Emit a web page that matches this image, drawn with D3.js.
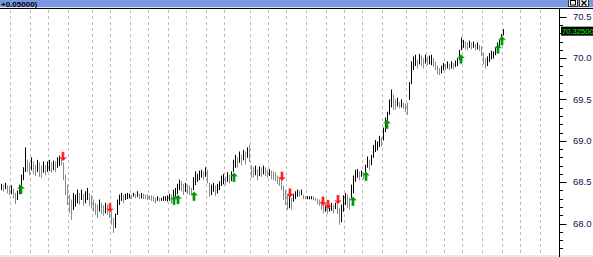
<!DOCTYPE html>
<html><head><meta charset="utf-8">
<script src="https://cdn.jsdelivr.net/npm/d3@7"></script>
<style>html,body{margin:0;padding:0;background:#fff;overflow:hidden}svg{display:block}</style>
</head><body>
<svg id="c" width="593" height="257"></svg>
<script>
// ---- data ----
const highs = [68.48,68.47,68.49,68.46,68.45,68.46,68.42,68.37,68.40,68.47,68.59,68.68,68.92,68.77,68.74,68.80,68.75,68.71,68.77,68.74,
68.70,68.75,68.71,68.75,68.77,68.74,68.76,68.75,68.80,68.82,68.77,68.74,68.59,68.47,68.35,68.29,68.37,68.35,68.41,68.37,
68.41,68.36,68.39,68.43,68.37,68.34,68.29,68.25,68.23,68.29,68.25,68.22,68.25,68.23,68.17,68.15,68.07,68.12,68.29,68.35,
68.37,68.35,68.36,68.37,68.36,68.35,68.37,68.36,68.39,68.36,68.37,68.36,68.35,68.35,68.34,68.34,68.33,68.31,68.33,68.31,
68.31,68.33,68.33,68.34,68.36,68.35,68.41,68.43,68.48,68.53,68.51,68.48,68.49,68.47,68.46,68.43,68.56,68.63,68.60,68.64,
68.65,68.63,68.68,68.65,68.49,68.47,68.49,68.46,68.48,68.51,68.58,68.60,68.57,68.62,68.59,68.63,68.77,68.83,68.80,68.87,
68.83,68.89,68.87,68.92,68.95,68.71,68.68,68.70,68.66,68.69,68.68,68.70,68.68,68.65,68.66,68.64,68.63,68.62,68.58,68.56,
68.53,68.46,68.41,68.35,68.33,68.31,68.36,68.39,68.41,68.40,68.41,68.35,68.33,68.33,68.33,68.33,68.33,68.31,68.30,68.29,
68.27,68.24,68.23,68.21,68.23,68.25,68.23,68.25,68.25,68.19,68.23,68.34,68.37,68.35,68.31,68.47,68.58,68.65,68.66,68.63,
68.64,68.62,68.71,68.81,68.77,68.83,68.95,69.01,68.99,69.06,69.04,69.16,69.28,69.35,69.50,69.62,69.56,69.50,69.52,69.47,
69.50,69.46,69.45,69.46,69.71,69.96,70.02,70.04,69.98,70.05,70.03,70.00,70.04,70.02,70.03,70.04,70.00,69.96,69.91,69.88,
69.91,69.94,69.93,69.96,69.93,69.96,69.94,69.97,70.00,70.10,70.25,70.22,70.20,70.19,70.21,70.19,70.20,70.17,70.19,70.16,
70.14,70.06,70.00,70.02,70.06,70.09,70.08,70.13,70.19,70.22,70.29,70.35];
const lows = [68.41,68.39,68.42,68.37,68.35,68.36,68.31,68.24,68.29,68.36,68.46,68.53,68.63,68.63,68.59,68.65,68.60,68.58,68.63,68.57,
68.56,68.62,68.59,68.63,68.64,68.62,68.65,68.63,68.68,68.70,68.71,68.53,68.35,68.23,68.13,68.05,68.17,68.21,68.25,68.23,
68.29,68.22,68.25,68.29,68.22,68.19,68.15,68.11,68.07,68.15,68.12,68.10,68.13,68.11,68.07,67.99,67.89,67.95,68.11,68.23,
68.28,68.25,68.29,68.30,68.31,68.30,68.33,68.31,68.33,68.30,68.31,68.30,68.30,68.29,68.29,68.28,68.27,68.25,68.28,68.27,
68.28,68.28,68.28,68.27,68.28,68.25,68.31,68.33,68.36,68.41,68.39,68.35,68.39,68.36,68.35,68.36,68.41,68.47,68.51,68.53,
68.56,68.53,68.57,68.49,68.33,68.35,68.39,68.34,68.37,68.41,68.46,68.48,68.47,68.51,68.49,68.52,68.63,68.68,68.68,68.74,
68.71,68.77,68.72,68.80,68.75,68.56,68.56,68.59,68.53,68.58,68.57,68.60,68.58,68.56,68.58,68.54,68.53,68.52,68.48,68.46,
68.41,68.29,68.23,68.17,68.19,68.17,68.27,68.30,68.33,68.33,68.35,68.30,68.30,68.30,68.30,68.30,68.29,68.28,68.24,68.22,
68.17,68.13,68.15,68.12,68.15,68.16,68.13,68.18,68.12,67.99,68.02,68.15,68.23,68.19,68.17,68.31,68.37,68.51,68.56,68.53,
68.57,68.54,68.59,68.68,68.65,68.71,68.80,68.87,68.89,68.93,68.94,69.01,69.11,69.20,69.32,69.41,69.38,69.38,69.42,69.40,
69.41,69.39,69.35,69.32,69.50,69.69,69.86,69.91,69.88,69.93,69.91,69.88,69.94,69.92,69.93,69.92,69.90,69.86,69.81,69.80,
69.82,69.86,69.86,69.88,69.86,69.88,69.87,69.90,69.91,69.98,70.10,70.13,70.11,70.10,70.13,70.11,70.13,70.10,70.11,70.09,
70.03,69.93,69.88,69.91,69.96,69.99,70.00,70.04,70.08,70.13,70.20,70.28];
// buy signals [bar index, price], sell signals [bar index, price]
const buySignals = [[9.5,68.41],[86,68.28],[88,68.29],[96,68.33],[116,68.56],[175.5,68.27],[182,68.57],[192.5,69.20],[229.5,69.99],[248,70.11],[250,70.21]];
const sellSignals = [[30.5,68.81],[54,68.19],[140,68.57],[144,68.37],[160.5,68.27],[163,68.23],[168,68.29]];
// session separators (bar index)
const sessionBreaks = [4.5,14.5,23.5,33.5,45.5,54.5,64.5,73.5,83.5,92.5,102.5,111.5,124.5,133.5,142.5,152.5,162.5,171.5,180.5,190.5,202.5,212.5,221.5,230.5,240.5,250.5,259.5,269.5];
const majorTicks = [68.0,68.5,69.0,69.5,70.0,70.5];
const tickLabels = ["68.0","68.5","69.0","69.5","70.0","70.5"];
const lastPrice = 70.325;
const lastPriceLabel = "70.32500";
const headerText = "+0.05000)";

// ---- drawing ----
const W = 593, H = 257;
const svg = d3.select("#c");
const x = d3.scaleLinear().domain([0, 279]).range([1.5, 559.5]);
const y = d3.scaleLinear().domain([68.0, 70.5]).range([223.5, 16.7]);
const axisX = 559.5;

// header band
svg.append("rect").attr("x",0).attr("y",0).attr("width",W).attr("height",7).attr("fill","#7a98e0");
svg.append("rect").attr("x",0).attr("y",7).attr("width",W).attr("height",1).attr("fill","#dfe6f7");
svg.append("rect").attr("x",0).attr("y",8).attr("width",W).attr("height",1).attr("fill","#000");
svg.append("text").attr("x",1).attr("y",6.8).text(headerText)
  .attr("font-family","Liberation Sans, Arial, sans-serif").attr("font-size",8).attr("font-weight","bold").attr("fill","#000");
// window buttons
[[568,"restore"],[579,"close"]].forEach(([bx,kind])=>{
  const g = svg.append("g");
  g.append("rect").attr("x",bx+0.5).attr("y",-1.5).attr("width",9).attr("height",8).attr("fill","#f4f4f4").attr("stroke","#333");
  if(kind==="close"){
    g.append("path").attr("d",`M${bx+2.5},0.5L${bx+7.5},5.5M${bx+7.5},0.5L${bx+2.5},5.5`).attr("stroke","#000").attr("stroke-width",1.3);
  } else {
    g.append("rect").attr("x",bx+2.5).attr("y",0.5).attr("width",5).attr("height",4.5).attr("fill","none").attr("stroke","#000");
  }
});

// bottom band
svg.append("rect").attr("x",0).attr("y",H-2).attr("width",W).attr("height",2).attr("fill","#ece9d8");

// gridlines
svg.append("g").selectAll("line").data(sessionBreaks).join("line")
  .attr("x1",d=>Math.round(x(d)-0.5)+0.5).attr("x2",d=>Math.round(x(d)-0.5)+0.5)
  .attr("y1",10).attr("y2",H-2)
  .attr("stroke","#bdbdbd").attr("stroke-width",1).attr("stroke-dasharray","3,3");

// bars
const bars = highs.map((h,i)=>({i,h,l:lows[i]}));
svg.append("g").selectAll("line").data(bars).join("line")
  .attr("x1",d=>x(d.i)).attr("x2",d=>x(d.i))
  .attr("y1",d=>y(d.h)).attr("y2",d=>y(d.l)+0.5)
  .attr("stroke",(d,k)=>{
    if(k===0) return "#000";
    const m=(d.h+d.l)/2, p=(bars[k-1].h+bars[k-1].l)/2;
    return m>=p ? "#000" : "#8a8a8a";
  })
  .attr("stroke-width",1);

// signals
function upArrow(cx,cy){return `M${cx},${cy-4.5}L${cx+3.5},${cy-1}L${cx+1.2},${cy-1}L${cx+1.2},${cy+4.5}L${cx-1.2},${cy+4.5}L${cx-1.2},${cy-1}L${cx-3.5},${cy-1}Z`;}
function downArrow(cx,cy){return `M${cx},${cy+4.5}L${cx+3.5},${cy+1}L${cx+1.2},${cy+1}L${cx+1.2},${cy-4.5}L${cx-1.2},${cy-4.5}L${cx-1.2},${cy+1}L${cx-3.5},${cy+1}Z`;}
svg.append("g").selectAll("path").data(buySignals).join("path")
  .attr("d",d=>upArrow(x(d[0])+0.5,y(d[1])))
  .attr("fill","#0a8c0a").attr("stroke","#27c227").attr("stroke-width",0.4);
svg.append("g").selectAll("path").data(sellSignals).join("path")
  .attr("d",d=>downArrow(x(d[0])+0.5,y(d[1])))
  .attr("fill","#ff1a1a").attr("stroke","#ff7070").attr("stroke-width",0.4);

// right axis
const axisG = svg.append("g");
axisG.append("line").attr("x1",axisX).attr("x2",axisX).attr("y1",9).attr("y2",H).attr("stroke","#000");
const minor = d3.range(676, 706).map(v=>v/10).filter(v=>y(v)>9 && y(v)<H);
axisG.selectAll("line.mn").data(minor).join("line").attr("class","mn")
  .attr("x1",axisX).attr("x2",axisX+3.5)
  .attr("y1",d=>Math.round(y(d))+0.5).attr("y2",d=>Math.round(y(d))+0.5).attr("stroke","#000");
axisG.selectAll("line.mj").data(majorTicks).join("line").attr("class","mj")
  .attr("x1",axisX).attr("x2",axisX+7)
  .attr("y1",d=>Math.round(y(d))+0.5).attr("y2",d=>Math.round(y(d))+0.5).attr("stroke","#000");
axisG.selectAll("text").data(majorTicks).join("text")
  .attr("x",573).attr("y",d=>y(d)+3.3).text((d,i)=>tickLabels[i])
  .attr("font-family","Liberation Sans, Arial, sans-serif").attr("font-size",9.5).attr("fill","#10104a");

// last price label
const ly = y(lastPrice);
svg.append("rect").attr("x",561).attr("y",ly-4.5).attr("width",32).attr("height",9).attr("fill","#000");
svg.append("text").attr("x",562).attr("y",ly+3).text(lastPriceLabel)
  .attr("font-family","Liberation Sans, Arial, sans-serif").attr("font-size",7.6).attr("fill","#00ff00");
</script>
</body></html>
